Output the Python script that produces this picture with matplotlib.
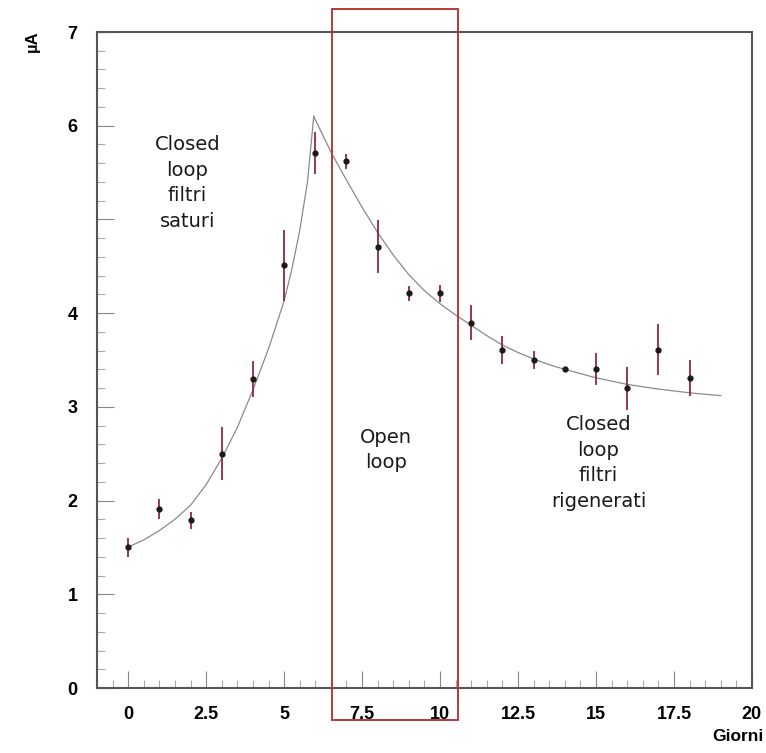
"""Current vs days: closed loop / open loop / closed loop with regenerated filters."""

import matplotlib

matplotlib.use("Agg")
import matplotlib.pyplot as plt
from matplotlib.patches import Rectangle
from matplotlib.ticker import MultipleLocator

# measured points (days, uA) with vertical errors
days = [0, 1, 2, 3, 4, 5, 6, 7, 8, 9, 10, 11, 12, 13, 14, 15, 16, 17, 18]
current = [1.50, 1.91, 1.79, 2.50, 3.30, 4.51, 5.71, 5.62, 4.71, 4.21, 4.21,
           3.90, 3.61, 3.50, 3.40, 3.40, 3.20, 3.61, 3.31]
current_err = [0.10, 0.11, 0.09, 0.28, 0.19, 0.38, 0.22, 0.08, 0.28, 0.085, 0.09,
               0.19, 0.15, 0.10, 0.02, 0.17, 0.23, 0.27, 0.19]

# fitted curve
fit_rise_x = [0.1, 0.5, 1.0, 1.5, 2.0, 2.5, 3.0, 3.5, 4.0, 4.5, 5.0, 5.25, 5.5,
              5.75, 5.95]
fit_rise_y = [1.52, 1.58, 1.68, 1.80, 1.95, 2.17, 2.45, 2.78, 3.18, 3.62, 4.13,
              4.47, 4.88, 5.40, 6.10]
fit_decay_x = [5.95, 6.5, 7.0, 7.5, 8.0, 8.5, 9.0, 9.5, 10.0, 10.5, 11.0, 11.5,
               12.0, 12.5, 13.0, 13.5, 14.0, 15.0, 16.0, 17.0, 18.0, 19.0]
fit_decay_y = [6.10, 5.72, 5.42, 5.13, 4.86, 4.62, 4.41, 4.24, 4.10, 3.98, 3.87,
               3.76, 3.66, 3.58, 3.51, 3.45, 3.40, 3.31, 3.24, 3.19, 3.15, 3.12]

# open-loop window (days, uA)
open_x = (6.53, 10.58)
open_y = (-0.34, 7.25)

y_ticks = [0, 1, 2, 3, 4, 5, 6, 7]
y_labels = ["0", "1", "2", "3", "4", "", "6", "7"]
x_ticks = [0, 2.5, 5, 7.5, 10, 12.5, 15, 17.5, 20]
x_labels = ["0", "2.5", "5", "7.5", "10", "12.5", "15", "17.5", "20"]

plt.rcParams["font.family"] = ["Liberation Sans", "DejaVu Sans"]

fig = plt.figure(figsize=(7.66, 7.53), dpi=100)
ax = fig.add_axes([0.1266, 0.0863, 0.855, 0.8712])

ax.plot(fit_rise_x, fit_rise_y, color="#8a8a8a", lw=0.9)
ax.plot(fit_decay_x, fit_decay_y, color="#8a8a8a", lw=0.9)
ax.errorbar(days, current, yerr=current_err, fmt="o", ms=3.5, color="#1a1a1a",
            ecolor="#8b2a3a", elinewidth=1.3, capsize=0, zorder=3)

ax.add_patch(Rectangle((open_x[0], open_y[0]), open_x[1] - open_x[0],
                       open_y[1] - open_y[0], fill=False, edgecolor="#b83a3a",
                       lw=1.4, clip_on=False, zorder=4))

ax.set_xlim(-1, 20)
ax.set_ylim(0, 7)
ax.set_xticks(x_ticks)
ax.set_xticklabels(x_labels, fontsize=13, fontweight="bold")
ax.set_yticks(y_ticks)
ax.set_yticklabels(y_labels, fontsize=13, fontweight="bold")
ax.xaxis.set_minor_locator(MultipleLocator(0.5))
ax.yaxis.set_minor_locator(MultipleLocator(0.2))
ax.tick_params(which="major", direction="in", length=12, width=0.8, color="#888888",
               pad=13)
ax.tick_params(which="minor", direction="in", length=6, width=0.8, color="#aaaaaa")
ax.tick_params(axis="y", pad=14)
for s in ax.spines.values():
    s.set_color("#555555")
    s.set_linewidth(1.5)

fig.text(0.042, 0.945, "µA", rotation=90, fontsize=12, fontweight="bold",
         ha="center", va="center")
fig.text(0.997, 0.012, "Giorni", fontsize=12.5, fontweight="bold", ha="right",
         va="bottom")

txt = dict(family=["DejaVu Sans"], fontsize=14, ha="center", va="center",
           linespacing=1.45, color="#1a1a1a")
ax.text(1.9, 5.39, "Closed\nloop\nfiltri\nsaturi", **txt)
ax.text(8.26, 2.54, "Open\nloop", **txt)
ax.text(15.08, 2.40, "Closed\nloop\nfiltri\nrigenerati", **txt)

fig.savefig("out.png", dpi=100)
